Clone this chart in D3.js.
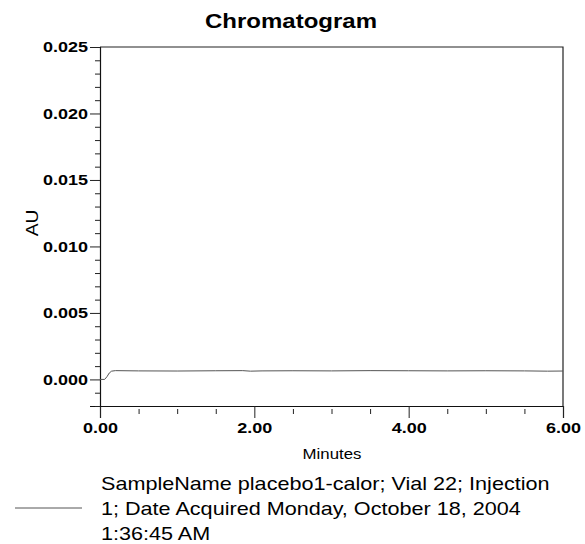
<!DOCTYPE html>
<html>
<head>
<meta charset="utf-8">
<script src="https://cdn.jsdelivr.net/npm/d3@7"></script>
<style>
  body { margin: 0; background: #fff; }
  svg { display: block; }
  text { font-family: "Liberation Sans", Arial, sans-serif; fill: #000; }
</style>
</head>
<body>
<div id="chart"></div>
<script>
//size
const width = 585;
const height = 544;

//plot frame
const margin = { top: 47, right: 22, bottom: 138, left: 100 };

//trace data (minutes, AU)
const minutes = [0, 0.06, 0.09, 0.12, 0.15, 0.2, 0.5, 1.0, 1.5, 1.85, 1.95, 2.1, 2.5, 3.0, 3.5, 4.0, 4.5, 5.0, 5.5, 5.8, 6.0];
const au = [0, 0, 0.0002, 0.00048, 0.00062, 0.00066, 0.00064, 0.00063, 0.00065, 0.00066, 0.00062, 0.00064, 0.00065, 0.00064, 0.00066, 0.00065, 0.00064, 0.00065, 0.00064, 0.00062, 0.00063];

//axis ticks
const xMajor = [0, 2, 4, 6];
const xMinor = [0.5, 1, 1.5, 2.5, 3, 3.5, 4.5, 5, 5.5];
const yMajor = [0, 0.005, 0.01, 0.015, 0.02, 0.025];
const yMinor = [-0.001, -0.002, 0.001, 0.002, 0.003, 0.004, 0.006, 0.007, 0.008, 0.009, 0.011, 0.012, 0.013, 0.014, 0.016, 0.017, 0.018, 0.019, 0.021, 0.022, 0.023, 0.024];

//texts
const title = "Chromatogram";
const xTitle = "Minutes";
const yTitle = "AU";
const legendLines = [
  "SampleName placebo1-calor; Vial 22; Injection",
  "1; Date Acquired Monday, October 18, 2004",
  "1:36:45 AM",
];

//horizontal stretch of the scanned text
const sx = 1.2;

const x = d3.scaleLinear().domain([0, 6]).range([margin.left, width - margin.right]);
const y = d3.scaleLinear().domain([-0.002, 0.025]).range([height - margin.bottom, margin.top]);

const svg = d3.select("#chart")
  .append("svg")
  .attr("width", width)
  .attr("height", height);

//frame (top + right)
svg.append("path")
  .attr("d", `M${x(0)},${y(0.025)}H${x(6)}V${y(-0.002)}`)
  .attr("fill", "none")
  .attr("stroke", "#222")
  .attr("stroke-width", 1.2);

//x axis, major
const gx = svg.append("g")
  .attr("transform", `translate(0,${y(-0.002)})`)
  .call(d3.axisBottom(x).tickValues(xMajor).tickSize(12).tickPadding(4).tickFormat(d3.format(".2f")));

//x axis, minor
svg.append("g")
  .attr("transform", `translate(0,${y(-0.002) + 3})`)
  .call(d3.axisBottom(x).tickValues(xMinor).tickSize(5).tickFormat(""))
  .call((g) => g.select(".domain").remove());

//y axis, major
const gy = svg.append("g")
  .attr("transform", `translate(${x(0)},0)`)
  .call(d3.axisLeft(y).tickValues(yMajor).tickSize(10).tickPadding(2).tickFormat(d3.format(".3f")));

//y axis, minor
svg.append("g")
  .attr("transform", `translate(${x(0)},0)`)
  .call(d3.axisLeft(y).tickValues(yMinor).tickSize(5).tickFormat(""))
  .call((g) => g.select(".domain").remove());

svg.selectAll(".domain").attr("stroke", "#111").attr("stroke-width", 1.2);
svg.selectAll(".tick line").attr("stroke", "#222");

//tick label style
gx.selectAll("text")
  .style("font-family", "Liberation Sans, Arial, sans-serif")
  .style("font-size", "15px")
  .style("font-weight", "bold")
  .attr("transform", `scale(${sx},1)`);

gy.selectAll("text")
  .style("font-family", "Liberation Sans, Arial, sans-serif")
  .style("font-size", "15px")
  .style("font-weight", "bold")
  .attr("x", -12 / sx)
  .attr("transform", `scale(${sx},1)`);

//trace
svg.append("path")
  .datum(d3.range(minutes.length))
  .attr("fill", "none")
  .attr("stroke", "#555")
  .attr("stroke-width", 1)
  .attr("d", d3.line().x((i) => x(minutes[i])).y((i) => y(au[i])));

//stretched text helper
function label(tx, ty, str, size, anchor, weight, rotate) {
  svg.append("text")
    .attr("transform", `translate(${tx},${ty})${rotate ? " rotate(-90)" : ""} scale(${sx},1)`)
    .attr("text-anchor", anchor)
    .style("font-size", size + "px")
    .style("font-weight", weight)
    .text(str);
}

//title
label(291, 28, title, 20, "middle", "bold");

//axis titles
label(332, 459, xTitle, 14, "middle", "normal");
label(38, 223, yTitle, 16, "middle", "normal", true);

//legend
svg.append("line")
  .attr("x1", 15)
  .attr("x2", 82)
  .attr("y1", 508)
  .attr("y2", 508)
  .attr("stroke", "#555")
  .attr("stroke-width", 1);

legendLines.forEach((t, i) => label(101, 490 + i * 25, t, 18, "start", "normal"));
</script>
</body>
</html>
